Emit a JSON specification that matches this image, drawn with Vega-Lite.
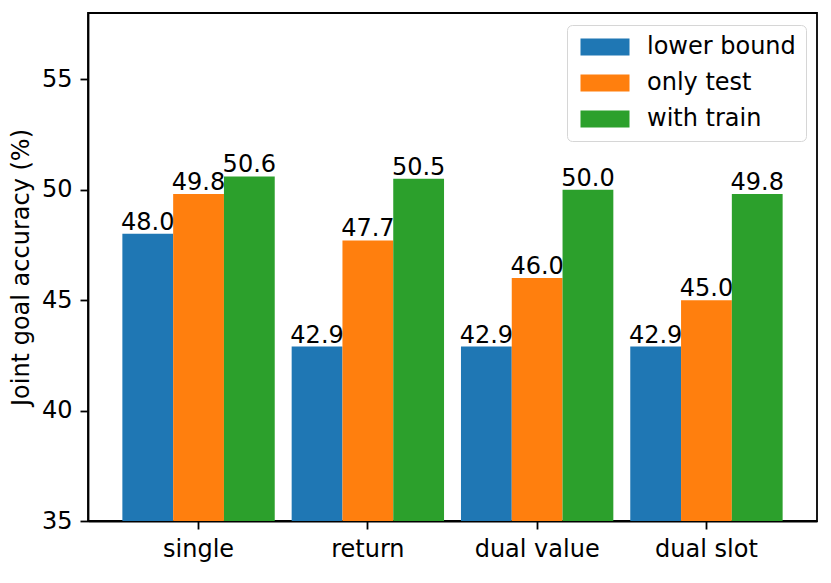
{
  "$schema": "https://vega.github.io/schema/vega-lite/v6.json",
  "width": 729,
  "height": 508,
  "autosize": {"type": "none"},
  "padding": {"left": 88, "top": 13, "right": 14, "bottom": 62},
  "data": {
    "values": [
      {"group": "single", "series": "lower bound", "value": 48.0},
      {"group": "single", "series": "only test", "value": 49.8},
      {"group": "single", "series": "with train", "value": 50.6},
      {"group": "return", "series": "lower bound", "value": 42.9},
      {"group": "return", "series": "only test", "value": 47.7},
      {"group": "return", "series": "with train", "value": 50.5},
      {"group": "dual value", "series": "lower bound", "value": 42.9},
      {"group": "dual value", "series": "only test", "value": 46.0},
      {"group": "dual value", "series": "with train", "value": 50.0},
      {"group": "dual slot", "series": "lower bound", "value": 42.9},
      {"group": "dual slot", "series": "only test", "value": 45.0},
      {"group": "dual slot", "series": "with train", "value": 49.8}
    ]
  },
  "encoding": {
    "x": {
      "field": "group",
      "type": "nominal",
      "sort": ["single", "return", "dual value", "dual slot"],
      "scale": {"paddingInner": 0.1, "paddingOuter": 0.203},
      "axis": {"title": null, "labelAngle": 0, "labelPadding": 8}
    },
    "xOffset": {
      "field": "series",
      "type": "nominal",
      "sort": ["lower bound", "only test", "with train"],
      "scale": {"paddingInner": 0, "paddingOuter": 0}
    },
    "y": {
      "field": "value",
      "type": "quantitative",
      "scale": {"domain": [35, 58], "nice": false, "zero": false},
      "axis": {
        "title": "Joint goal accuracy (%)",
        "values": [35, 40, 45, 50, 55],
        "titlePadding": 8,
        "labelPadding": 8
      }
    }
  },
  "layer": [
    {
      "mark": {"type": "bar"},
      "encoding": {
        "y2": {"datum": 35},
        "color": {
          "field": "series",
          "type": "nominal",
          "scale": {
            "domain": ["lower bound", "only test", "with train"],
            "range": ["#1f77b4", "#ff7f0e", "#2ca02c"]
          },
          "legend": {
            "title": null,
            "orient": "none",
            "legendX": 479,
            "legendY": 12,
            "symbolType": "M-1,-1H4.765V1H-1Z",
            "symbolSize": 289,
            "symbolStrokeWidth": 0,
            "symbolOpacity": 1,
            "labelFontSize": 24,
            "labelOffset": 46,
            "rowPadding": 12,
            "padding": 10,
            "strokeColor": "#d6d6d6",
            "fillColor": "white",
            "cornerRadius": 5,
            "zindex": 1
          }
        }
      }
    },
    {
      "mark": {"type": "text", "align": "center", "baseline": "alphabetic", "dy": -4, "fontSize": 24, "color": "black"},
      "encoding": {
        "text": {"field": "value", "type": "quantitative", "format": ".1f"}
      }
    }
  ],
  "config": {
    "font": "DejaVu Sans",
    "view": {"stroke": "black", "strokeWidth": 1.8},
    "axis": {
      "labelFont": "DejaVu Sans",
      "titleFont": "DejaVu Sans",
      "labelFontSize": 24,
      "titleFontSize": 24,
      "titleFontWeight": "normal",
      "labelColor": "black",
      "titleColor": "black",
      "domainColor": "black",
      "domainWidth": 1.8,
      "tickColor": "black",
      "tickWidth": 1.8,
      "tickSize": 8,
      "grid": false
    },
    "legend": {"labelFont": "DejaVu Sans", "labelColor": "black"}
  }
}
